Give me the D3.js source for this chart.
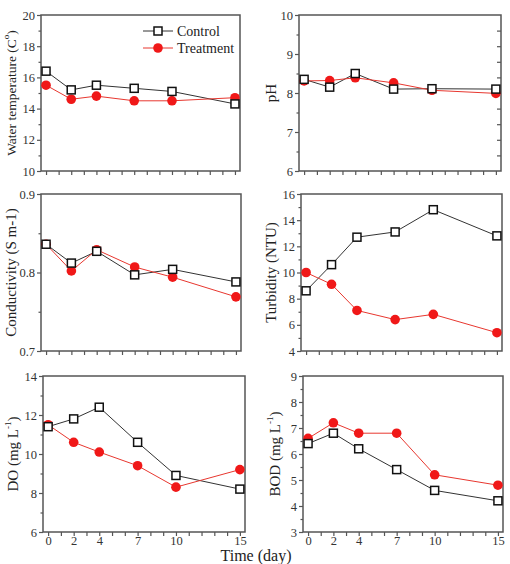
<!DOCTYPE html>
<html><head><meta charset="utf-8">
<script src="https://cdn.jsdelivr.net/npm/d3@7/dist/d3.min.js"></script>
<style>
body{margin:0;background:#fff;}
text{font-family:"Liberation Serif","Times New Roman",serif;}
</style></head>
<body><svg id="c" width="510" height="564"></svg>
<script>
const days = [0, 2, 4, 7, 10, 15];
const xTickLabels = [0, 2, 4, 7, 10, 15];
const seriesNames = ["Control", "Treatment"];

const tempControl = [16.4, 15.2, 15.5, 15.3, 15.1, 14.3];
const tempTreatment = [15.5, 14.6, 14.8, 14.5, 14.5, 14.7];
const phControl = [8.35, 8.15, 8.5, 8.1, 8.11, 8.1];
const phTreatment = [8.31, 8.32, 8.39, 8.26, 8.07, 7.99];
const condControl = [0.836, 0.812, 0.827, 0.797, 0.804, 0.788];
const condTreatment = [0.836, 0.802, 0.829, 0.807, 0.794, 0.769];
const turbControl = [8.6, 10.6, 12.7, 13.1, 14.8, 12.8];
const turbTreatment = [10.0, 9.1, 7.1, 6.4, 6.8, 5.4];
const doControl = [11.4, 11.8, 12.4, 10.6, 8.9, 8.2];
const doTreatment = [11.5, 10.6, 10.1, 9.4, 8.3, 9.2];
const bodControl = [6.4, 6.8, 6.2, 5.4, 4.6, 4.2];
const bodTreatment = [6.6, 7.2, 6.8, 6.8, 5.2, 4.8];

const tempTicks = [10, 12, 14, 16, 18, 20];
const phTicks = [6, 7, 8, 9, 10];
const condTicks = [0.7, 0.8, 0.9];
const turbTicks = [4, 6, 8, 10, 12, 14, 16];
const doTicks = [6, 8, 10, 12, 14];
const bodTicks = [3, 4, 5, 6, 7, 8, 9];

const panels = [
  {l:41, t:15, r:240, b:171, y:[10,20], ticks:tempTicks, minor:1, fmt:d=>d, c:tempControl, tr:tempTreatment, title:"Water temperature (C", sup:"o", tail:")", tx:11, fs:13.5, legend:true},
  {l:299, t:15, r:501, b:171, y:[6,10], ticks:phTicks, minor:0.5, fmt:d=>d, c:phControl, tr:phTreatment, title:"pH", tx:271, fs:15, rightTicks:true},
  {l:41, t:194, r:241, b:351, y:[0.7,0.9], ticks:condTicks, minor:0.05, fmt:d3.format(".1f"), c:condControl, tr:condTreatment, title:"Conductivity (S m-1)", tx:11, fs:15},
  {l:301, t:194, r:502, b:351, y:[4,16], ticks:turbTicks, minor:1, fmt:d=>d, c:turbControl, tr:turbTreatment, title:"Turbidity (NTU)", tx:271, fs:15},
  {l:43, t:376, r:245, b:532, y:[6,14], ticks:doTicks, minor:1, fmt:d=>d, c:doControl, tr:doTreatment, title:"DO (mg L", sup:"-1", tail:")", tx:13, fs:15, xlabels:true},
  {l:303, t:376, r:503, b:532, y:[3,9], ticks:bodTicks, minor:0.5, fmt:d=>d, c:bodControl, tr:bodTreatment, title:"BOD (mg L", sup:"-1", tail:")", tx:275, fs:15, xlabels:true}
];

const svg = d3.select("#c");
const frameCol = "#555";
const txtCol = "#333";

panels.forEach(p => {
  const x = d3.scaleLinear().domain([-0.4, 15.4]).range([p.l, p.r]);
  const y = d3.scaleLinear().domain(p.y).range([p.b, p.t]);
  const g = svg.append("g");

  const minors = d3.range(p.y[0], p.y[1] + 1e-9, p.minor).filter(v => !p.ticks.some(t => Math.abs(t - v) < 1e-9));
  const yAxis = d3.axisLeft(y).tickValues(p.ticks).tickFormat(p.fmt).tickSize(4).tickPadding(2);
  const ya = g.append("g").attr("transform", `translate(${p.l},0)`).call(yAxis);
  ya.select(".domain").remove();
  ya.selectAll("line").attr("stroke", frameCol).attr("stroke-width", 1.2);
  ya.selectAll("text").attr("fill", txtCol).style("font-size", "12.5px").style("font-family", "Liberation Serif");
  const ym = g.append("g").attr("transform", `translate(${p.l},0)`).call(d3.axisLeft(y).tickValues(minors).tickFormat("").tickSize(2.5));
  ym.select(".domain").remove();
  ym.selectAll("line").attr("stroke", frameCol).attr("stroke-width", 1.2);

  if (p.rightTicks) {
    const rv = d3.range(6.4, 9.7, 0.4);
    const rt = g.append("g").attr("transform", `translate(${p.r},0)`).call(d3.axisLeft(y).tickValues(rv).tickFormat("").tickSize(4));
    rt.select(".domain").remove();
    rt.selectAll("line").attr("stroke", frameCol).attr("stroke-width", 1.2);
  }

  const xAxis = d3.axisBottom(x).tickValues(d3.range(0, 16, 1)).tickSize(4).tickPadding(0)
    .tickFormat(d => (p.xlabels && xTickLabels.includes(d)) ? d : "");
  const xa = g.append("g").attr("transform", `translate(0,${p.b})`).call(xAxis);
  xa.select(".domain").remove();
  xa.selectAll("line").attr("stroke", frameCol).attr("stroke-width", 1.2);
  xa.selectAll("text").attr("fill", txtCol).style("font-size", "12.5px").style("font-family", "Liberation Serif");

  g.append("rect").attr("x", p.l).attr("y", p.t).attr("width", p.r - p.l).attr("height", p.b - p.t)
    .attr("fill", "none").attr("stroke", frameCol).attr("stroke-width", 1.5);

  const ty = (p.t + p.b) / 2;
  const tt = g.append("text").attr("transform", `translate(${p.tx},${ty}) rotate(-90)`)
    .attr("text-anchor", "middle").attr("dominant-baseline", "central")
    .attr("fill", "#222").style("font-size", p.fs + "px");
  tt.append("tspan").text(p.title);
  if (p.sup) {
    tt.append("tspan").text(p.sup).attr("baseline-shift", "super").style("font-size", "9px");
    tt.append("tspan").text(p.tail);
  }

  const line = d3.line().x((d, i) => x(days[i])).y(d => y(d));
  g.append("path").datum(p.c).attr("d", line).attr("fill", "none").attr("stroke", "#333").attr("stroke-width", 1);
  g.append("path").datum(p.tr).attr("d", line).attr("fill", "none").attr("stroke", "#e8372f").attr("stroke-width", 1);

  g.selectAll(".tr").data(p.tr).join("circle")
    .attr("cx", (d, i) => x(days[i])).attr("cy", d => y(d)).attr("r", 4.8).attr("fill", "#f01818");
  g.selectAll(".ct").data(p.c).join("rect")
    .attr("x", (d, i) => x(days[i]) - 4).attr("y", d => y(d) - 4).attr("width", 8).attr("height", 8)
    .attr("fill", "#fff").attr("stroke", "#111").attr("stroke-width", 1.5);

  if (p.legend) {
    const lg = g.append("g");
    const ly = [31, 48];
    lg.append("line").attr("x1", 143).attr("x2", 173).attr("y1", ly[0]).attr("y2", ly[0]).attr("stroke", "#333");
    lg.append("rect").attr("x", 154).attr("y", ly[0] - 4).attr("width", 8).attr("height", 8).attr("fill", "#fff").attr("stroke", "#111").attr("stroke-width", 1.5);
    lg.append("line").attr("x1", 143).attr("x2", 173).attr("y1", ly[1]).attr("y2", ly[1]).attr("stroke", "#e8372f");
    lg.append("circle").attr("cx", 158).attr("cy", ly[1]).attr("r", 4.8).attr("fill", "#f01818");
    seriesNames.forEach((n, i) => {
      lg.append("text").attr("x", 177).attr("y", ly[i]).attr("dominant-baseline", "central")
        .attr("fill", "#222").style("font-size", "14px").text(n);
    });
  }
});

svg.append("text").attr("x", 256).attr("y", 561).attr("text-anchor", "middle")
  .attr("fill", "#222").style("font-size", "16px").text("Time (day)");
</script></body></html>
